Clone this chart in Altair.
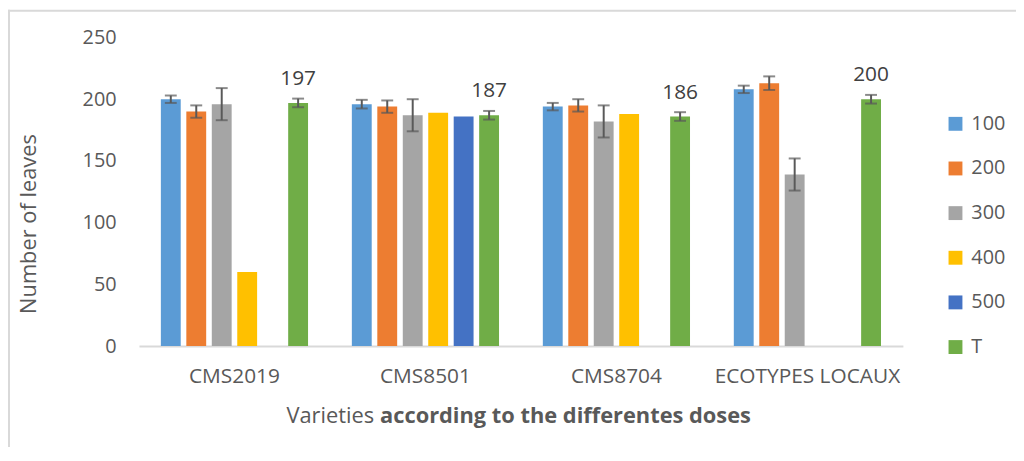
import altair as alt
import pandas as pd

varieties = ["CMS2019", "CMS8501", "CMS8704", "ECOTYPES LOCAUX"]
doses = ["100", "200", "300", "400", "500", "T"]

# mean number of leaves per dose (None = no bar)
v100 = [200, 196, 194, 208]
v200 = [190, 194, 195, 213]
v300 = [196, 187, 182, 139]
v400 = [60, 189, 188, None]
v500 = [None, 186, None, None]
vT = [197, 187, 186, 200]

# error bar half-widths (None = no error bar)
e100 = [3, 3.5, 3, 3]
e200 = [5, 5, 5, 5.5]
e300 = [13, 13, 13, 13]
e400 = [None, None, None, None]
e500 = [None, None, None, None]
eT = [3.5, 3.5, 3.5, 3.5]

# data labels shown only on the control (T) bars
label_dose = "T"

colors = ["#5B9BD5", "#ED7D31", "#A5A5A5", "#FFC000", "#4472C4", "#70AD47"]

vals = {"100": v100, "200": v200, "300": v300, "400": v400, "500": v500, "T": vT}
errs = {"100": e100, "200": e200, "300": e300, "400": e400, "500": e500, "T": eT}

rows = []
for d in doses:
    for i, v in enumerate(varieties):
        val = vals[d][i]
        if val is None:
            continue
        e = errs[d][i]
        rows.append({
            "variety": v, "dose": d, "value": val,
            "lo": None if e is None else val - e,
            "hi": None if e is None else val + e,
            "label": str(val) if d == label_dose else "",
        })
df = pd.DataFrame(rows)

FONT = "Open Sans"
TXT = "#595959"

x_enc = alt.X("variety:N", sort=varieties,
              scale=alt.Scale(paddingInner=0.2, paddingOuter=0.1),
              axis=alt.Axis(title=None, labelFontSize=21, labelColor=TXT, labelFont=FONT,
                            labelAngle=0, ticks=False, tickSize=0, labelPadding=20,
                            labelLimit=400,
                            domainColor="#D9D9D9", domainWidth=2, grid=False))
xoff = alt.XOffset("dose:N", sort=doses,
                   scale=alt.Scale(domain=doses, paddingInner=0.22, paddingOuter=0.11))
y_scale = alt.Scale(domain=[0, 250], nice=False, padding=0, zero=True)
y_enc = alt.Y("value:Q", scale=y_scale,
              axis=alt.Axis(title=None, values=[0, 50, 100, 150, 200, 250],
                            labelFontSize=20, labelColor=TXT, labelFont=FONT,
                            domain=False, ticks=False, tickSize=0, grid=False,
                            labelPadding=23))

base = alt.Chart(df)

bars = base.mark_bar().encode(
    x=x_enc, xOffset=xoff, y=y_enc,
    color=alt.Color("dose:N", sort=doses,
                    scale=alt.Scale(domain=doses, range=colors),
                    legend=alt.Legend(title=None, orient="none", legendX=813, legendY=77,
                                      symbolType="square", symbolSize=196,
                                      symbolStrokeWidth=0, labelFontSize=20,
                                      labelColor=TXT, labelFont=FONT, rowPadding=25,
                                      labelOffset=6)),
)

err = base.transform_filter("isValid(datum.lo)")
err_rule = err.mark_rule(color="#595959", strokeWidth=2).encode(
    x=alt.X("variety:N", sort=varieties), xOffset=xoff,
    y=alt.Y("lo:Q", scale=y_scale), y2="hi:Q")
cap_lo = err.mark_tick(color="#595959", thickness=2, size=12, orient="horizontal").encode(
    x=alt.X("variety:N", sort=varieties), xOffset=xoff, y=alt.Y("lo:Q", scale=y_scale))
cap_hi = err.mark_tick(color="#595959", thickness=2, size=12, orient="horizontal").encode(
    x=alt.X("variety:N", sort=varieties), xOffset=xoff, y=alt.Y("hi:Q", scale=y_scale))

labels = base.transform_filter(alt.datum.label != "").mark_text(
    fontSize=21, font=FONT, color="#404040", baseline="alphabetic", dy=-18).encode(
    x=alt.X("variety:N", sort=varieties), xOffset=xoff, y=alt.Y("value:Q", scale=y_scale),
    text="label:N")

one = pd.DataFrame({"k": [0]})
ytitle = alt.Chart(one).mark_text(text="Number of leaves", angle=270, fontSize=22,
                                  font=FONT, color=TXT, align="center",
                                  baseline="middle").encode(
    x=alt.value(-111), y=alt.value(188))
xtitle1 = alt.Chart(one).mark_text(text="Varieties", fontSize=22, font=FONT, color=TXT,
                                   align="right", baseline="middle").encode(
    x=alt.value(237), y=alt.value(382))
xtitle2 = alt.Chart(one).mark_text(text="according  to the differentes doses", fontSize=22,
                                   font=FONT, color=TXT, fontWeight="bold",
                                   align="left", baseline="middle").encode(
    x=alt.value(243), y=alt.value(382))

frame_top = alt.Chart(one).mark_rule(color="#D9D9D9", strokeWidth=2).encode(
    x=alt.value(-132), x2=alt.value(900), y=alt.value(-27))
frame_left = alt.Chart(one).mark_rule(color="#D9D9D9", strokeWidth=2).encode(
    x=alt.value(-131), y=alt.value(-28), y2=alt.value(440))

chart = alt.layer(
    frame_top, frame_left, bars, err_rule, cap_lo, cap_hi, labels, ytitle, xtitle1, xtitle2
).properties(
    width=770, height=311,
    background="white",
    padding={"left": 132, "top": 28, "right": 114, "bottom": 100},
    autosize=alt.AutoSizeParams(type="none"),
).configure_view(strokeWidth=0, stroke="transparent")

chart.save("out.html", embed_options={"renderer": "svg", "actions": False})
